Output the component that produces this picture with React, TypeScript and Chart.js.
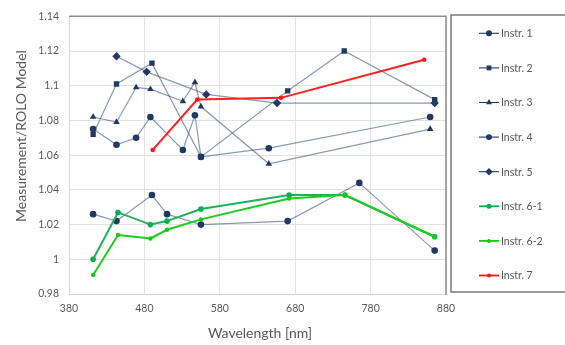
import { useEffect, useRef } from 'react';
import { Chart, registerables } from 'chart.js';

Chart.register(...registerables);

// ---------------- data ----------------
const seriesNames = ['Instr. 1', 'Instr. 2', 'Instr. 3', 'Instr. 4', 'Instr. 5', 'Instr. 6-1', 'Instr. 6-2', 'Instr. 7'];

const wl1 = [412, 443, 490, 510, 555, 670, 765, 865];
const val1 = [1.026, 1.022, 1.037, 1.026, 1.020, 1.022, 1.044, 1.005];

const wl2 = [412, 443, 490, 555, 670, 745, 865];
const val2 = [1.072, 1.101, 1.113, 1.059, 1.097, 1.120, 1.092];

const wl3 = [412, 443, 469, 488, 531, 547, 555, 645, 859];
const val3 = [1.082, 1.079, 1.099, 1.098, 1.091, 1.102, 1.088, 1.055, 1.075];

const wl4 = [412, 443, 469, 488, 531, 547, 555, 645, 859];
const val4 = [1.075, 1.066, 1.070, 1.082, 1.063, 1.083, 1.059, 1.064, 1.082];

const wl5 = [443, 483, 562, 656, 865];
const val5 = [1.117, 1.108, 1.095, 1.090, 1.090];

const wl6 = [412, 445, 488, 510, 555, 672, 746, 865];
const val61 = [1.000, 1.027, 1.020, 1.022, 1.029, 1.037, 1.037, 1.013];
const val62 = [0.991, 1.014, 1.012, 1.017, 1.023, 1.035, 1.037, 1.013];

const wl7 = [491, 550, 661, 851];
const val7 = [1.063, 1.092, 1.093, 1.115];

const xTicks = [380, 480, 580, 680, 780, 880];
const xTickLabels = ['380', '480', '580', '680', '780', '880'];
const yTicks = [0.98, 1.0, 1.02, 1.04, 1.06, 1.08, 1.1, 1.12, 1.14];
const yTickLabels = ['0.98', '1', '1.02', '1.04', '1.06', '1.08', '1.1', '1.12', '1.14'];

const xTitle = 'Wavelength [nm]';
const yTitle = 'Measurement/ROLO Model';

// ---------------- styles ----------------
const FONT = 'Lato, "Open Sans", sans-serif';
const TEXT = '#595959';
const NAVY = '#1f3864';
const NAVY_LINE = 'rgba(70,90,130,0.62)';

type Style = { point: string; radius: number; color: string; line: string; legendLine: string; width: number };
const styles: Style[] = [
  { point: 'circle', radius: 3.3, color: NAVY, line: NAVY_LINE, legendLine: NAVY, width: 1.2 },
  { point: 'rect', radius: 3.8, color: NAVY, line: NAVY_LINE, legendLine: NAVY, width: 1.2 },
  { point: 'triangle', radius: 3.8, color: NAVY, line: NAVY_LINE, legendLine: NAVY, width: 1.2 },
  { point: 'circle', radius: 3.3, color: NAVY, line: NAVY_LINE, legendLine: NAVY, width: 1.2 },
  { point: 'rectRot', radius: 4.2, color: NAVY, line: NAVY_LINE, legendLine: NAVY, width: 1.2 },
  { point: 'circle', radius: 2.8, color: '#00b050', line: '#1fb25a', legendLine: '#00b050', width: 2 },
  { point: 'circle', radius: 2.2, color: '#11cc11', line: '#1dcc1d', legendLine: '#11cc11', width: 2 },
  { point: 'circle', radius: 2.3, color: '#ff1a1a', line: '#ff2020', legendLine: '#ff1a1a', width: 2 },
];

const seriesX = [wl1, wl2, wl3, wl4, wl5, wl6, wl6, wl7];
const seriesY = [val1, val2, val3, val4, val5, val61, val62, val7];

function drawMarker(ctx: CanvasRenderingContext2D, style: string, x: number, y: number, r: number, color: string) {
  ctx.save();
  ctx.fillStyle = color;
  ctx.beginPath();
  if (style === 'circle') {
    ctx.arc(x, y, r, 0, Math.PI * 2);
  } else if (style === 'rect') {
    const s = r * Math.SQRT1_2;
    ctx.rect(x - s, y - s, 2 * s, 2 * s);
  } else if (style === 'triangle') {
    ctx.moveTo(x, y - r);
    ctx.lineTo(x + r * 0.866, y + r * 0.5);
    ctx.lineTo(x - r * 0.866, y + r * 0.5);
  } else if (style === 'rectRot') {
    ctx.moveTo(x, y - r);
    ctx.lineTo(x + r, y);
    ctx.lineTo(x, y + r);
    ctx.lineTo(x - r, y);
  }
  ctx.closePath();
  ctx.fill();
  ctx.restore();
}

const decorPlugin = {
  id: 'decor',
  afterDraw(chart: any) {
    const ctx: CanvasRenderingContext2D = chart.ctx;
    const a = chart.chartArea;
    ctx.save();
    // plot border
    ctx.lineWidth = 1;
    ctx.strokeStyle = '#d6d6d6';
    ctx.beginPath();
    ctx.moveTo(a.left + 0.5, a.top);
    ctx.lineTo(a.left + 0.5, a.bottom + 0.5);
    ctx.lineTo(a.right, a.bottom + 0.5);
    ctx.stroke();
    ctx.strokeStyle = '#8f8f8f';
    ctx.lineWidth = 1.5;
    ctx.beginPath();
    ctx.moveTo(a.left, a.top);
    ctx.lineTo(a.right, a.top);
    ctx.lineTo(a.right, a.bottom + 1);
    ctx.stroke();

    // axis titles
    ctx.fillStyle = TEXT;
    ctx.font = '14px ' + FONT;
    ctx.textAlign = 'center';
    ctx.textBaseline = 'middle';
    ctx.fillText(xTitle, 260, 333);
    ctx.save();
    ctx.translate(21, 136);
    ctx.rotate(-Math.PI / 2);
    ctx.fillText(yTitle, 0, 0);
    ctx.restore();

    // legend box
    ctx.strokeStyle = '#7a7a7a';
    ctx.lineWidth = 1.5;
    ctx.strokeRect(451, 15, 130, 277);

    ctx.font = '10.5px ' + FONT;
    ctx.textAlign = 'left';
    seriesNames.forEach((name, i) => {
      const st = styles[i];
      const y = 33.3 + i * 34.6;
      ctx.strokeStyle = st.legendLine;
      ctx.lineWidth = st.width > 1.5 ? 1.8 : 1.1;
      ctx.beginPath();
      ctx.moveTo(479, y);
      ctx.lineTo(499, y);
      ctx.stroke();
      drawMarker(ctx, st.point, 489, y, st.radius * 0.9, st.color);
      ctx.fillStyle = TEXT;
      ctx.fillText(name, 501, y + 0.5);
    });
    ctx.restore();
  },
};

export default function App() {
  const ref = useRef<HTMLCanvasElement | null>(null);

  useEffect(() => {
    if (!ref.current) return;
    const datasets = seriesNames.map((name, i) => {
      const st = styles[i];
      return {
        label: name,
        data: seriesX[i].map((x, j) => ({ x, y: seriesY[i][j] })),
        pointStyle: st.point,
        pointRadius: st.radius,
        pointHoverRadius: st.radius,
        pointBackgroundColor: st.color,
        pointBorderColor: st.color,
        pointBorderWidth: 0,
        borderColor: st.line,
        borderWidth: st.width,
        showLine: true,
        fill: false,
        tension: 0,
        order: 20 - i,
      };
    });

    const chart = new Chart(ref.current, {
      type: 'line',
      data: { datasets },
      plugins: [decorPlugin],
      options: {
        animation: false,
        responsive: false,
        events: [],
        layout: { padding: { left: 0, right: 119, top: 15, bottom: 0 } },
        plugins: { legend: { display: false }, tooltip: { enabled: false } },
        scales: {
          x: {
            type: 'linear',
            min: 380,
            max: 880,
            afterFit: (s: any) => { s.height = 51; },
            afterBuildTicks: (s: any) => { s.ticks = xTicks.map((v) => ({ value: v })); },
            grid: { color: '#e2e2e2', lineWidth: 1, drawTicks: false },
            border: { display: false },
            ticks: {
              padding: 8,
              color: TEXT,
              font: { family: FONT, size: 10.5 },
              maxRotation: 0,
              callback: (_v: any, i: number) => xTickLabels[i],
            },
          },
          y: {
            type: 'linear',
            min: 0.98,
            max: 1.14,
            afterFit: (s: any) => { s.width = 69; },
            afterBuildTicks: (s: any) => { s.ticks = yTicks.map((v) => ({ value: v })); },
            grid: { color: '#e2e2e2', lineWidth: 1, drawTicks: false },
            border: { display: false },
            ticks: {
              padding: 10,
              color: TEXT,
              font: { family: FONT, size: 10.5 },
              callback: (_v: any, i: number) => yTickLabels[i],
            },
          },
        },
      },
    });
    return () => chart.destroy();
  }, []);

  return (
    <div style={{ position: 'absolute', left: 0, top: 0, width: 565, height: 345, background: '#fff' }}>
      <canvas ref={ref} width={565} height={345} style={{ width: 565, height: 345, display: 'block' }} />
    </div>
  );
}
